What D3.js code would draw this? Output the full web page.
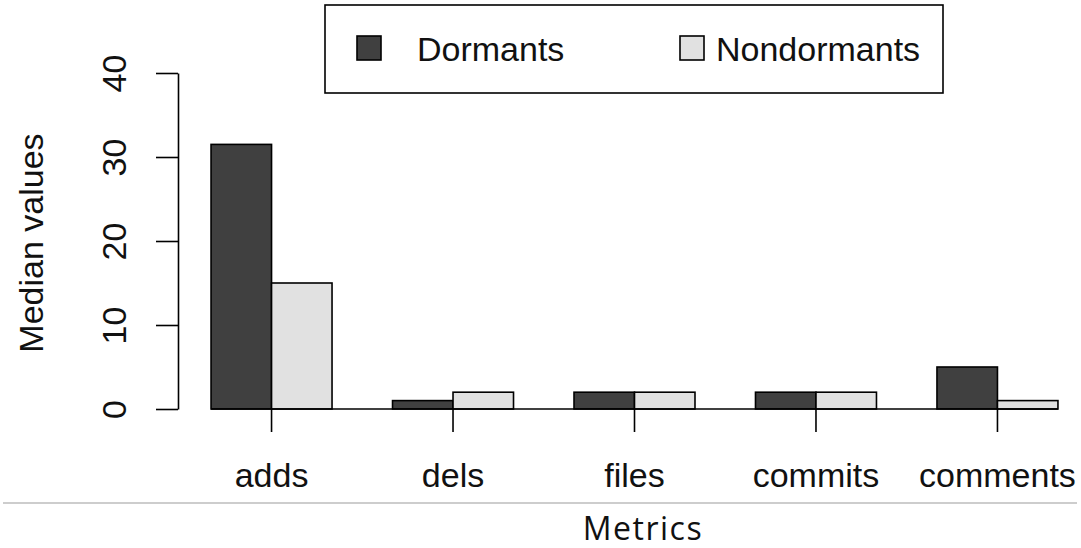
<!DOCTYPE html>
<html>
<head>
<meta charset="utf-8">
<script src="https://cdn.jsdelivr.net/npm/d3@7"></script>
<style>
  body { margin: 0; background: #fff; }
  text { font-family: "Liberation Sans", Arial, sans-serif; }
</style>
</head>
<body>
<script>
// chart data
let metrics = ["adds", "dels", "files", "commits", "comments"];
let groups = ["Dormants", "Nondormants"];
let dormants = [31.5, 1, 2, 2, 5];
let nondormants = [15, 2, 2, 2, 1];
let yTicks = [0, 10, 20, 30, 40];
let colors = ["#404040", "#e1e1e1"];

let svg = d3.select("body").append("svg")
  .attr("width", 1081)
  .attr("height", 548);

// scales
let y = d3.scaleLinear().domain([0, 40]).range([409, 73]);
// R barplot style: each group = 2 bars + 1 bar-wide gap
let x0 = d3.scaleBand().domain(metrics)
  .range([180.8, 1088.2])
  .paddingInner(1 / 3)
  .paddingOuter(1 / 6);
let x1 = d3.scaleBand().domain(groups).range([0, x0.bandwidth()]);

let rows = metrics.map((m, i) => ({ metric: m, values: [dormants[i], nondormants[i]] }));

// bars
let g = svg.append("g");
g.selectAll("g.grp")
  .data(rows)
  .join("g")
  .attr("class", "grp")
  .attr("transform", d => "translate(" + x0(d.metric) + ",0)")
  .selectAll("rect")
  .data(d => d.values.map((v, j) => ({ key: groups[j], v: v, c: colors[j] })))
  .join("rect")
  .attr("x", d => x1(d.key))
  .attr("y", d => y(d.v))
  .attr("width", x1.bandwidth())
  .attr("height", d => y(0) - y(d.v))
  .attr("fill", d => d.c)
  .attr("stroke", "#000")
  .attr("stroke-width", 1.6);

// baseline
svg.append("line")
  .attr("x1", x0(metrics[0])).attr("x2", x0(metrics[4]) + x0.bandwidth())
  .attr("y1", y(0)).attr("y2", y(0))
  .attr("stroke", "#000").attr("stroke-width", 1.6);

// y axis
let yAxis = svg.append("g")
  .attr("transform", "translate(178,0)")
  .call(d3.axisLeft(y).tickValues(yTicks).tickSize(22).tickSizeOuter(0).tickPadding(0));
yAxis.select(".domain").attr("stroke-width", 1.6);
yAxis.selectAll(".tick line").attr("stroke-width", 1.6);
yAxis.selectAll(".tick text")
  .attr("font-size", 34)
  .attr("font-family", "Liberation Sans")
  .attr("fill", "#111")
  .attr("transform", "translate(-64,0) rotate(-90)")
  .attr("x", 0).attr("dy", "0.35em")
  .attr("text-anchor", "middle");

// x axis ticks at group centres
let xAxis = svg.append("g")
  .attr("transform", "translate(0," + y(0) + ")");
xAxis.selectAll("line")
  .data(metrics)
  .join("line")
  .attr("x1", d => x0(d) + x0.bandwidth() / 2)
  .attr("x2", d => x0(d) + x0.bandwidth() / 2)
  .attr("y1", 0).attr("y2", 23)
  .attr("stroke", "#000").attr("stroke-width", 1.6);
xAxis.selectAll("text")
  .data(metrics)
  .join("text")
  .attr("x", d => x0(d) + x0.bandwidth() / 2)
  .attr("y", 78)
  .attr("text-anchor", "middle")
  .attr("font-size", 34)
  .attr("fill", "#111")
  .text(d => d);

// y title
svg.append("text")
  .attr("transform", "translate(43,243) rotate(-90)")
  .attr("text-anchor", "middle")
  .attr("font-size", 34)
  .attr("fill", "#111")
  .text("Median values");

// separator and x title
svg.append("line")
  .attr("x1", 3).attr("x2", 1077).attr("y1", 503).attr("y2", 503)
  .attr("stroke", "#bdbdbd").attr("stroke-width", 1.5);
svg.append("text")
  .attr("x", 643).attr("y", 540)
  .attr("text-anchor", "middle")
  .style("font-family", "'Open Sans', sans-serif")
  .attr("font-size", 32)
  .attr("letter-spacing", 1.5)
  .attr("fill", "#111")
  .text("Metrics");

// legend
let legend = svg.append("g");
legend.append("rect")
  .attr("x", 325).attr("y", 5).attr("width", 618).attr("height", 88)
  .attr("fill", "#fff").attr("stroke", "#000").attr("stroke-width", 1.6);
let legX = [357, 680];
legend.selectAll("rect.key")
  .data(groups)
  .join("rect")
  .attr("class", "key")
  .attr("x", (d, i) => legX[i]).attr("y", 36)
  .attr("width", 24).attr("height", 24)
  .attr("fill", (d, i) => colors[i])
  .attr("stroke", "#000").attr("stroke-width", 1.6);
legend.selectAll("text")
  .data(groups)
  .join("text")
  .attr("x", (d, i) => legX[i] + 60 - (i ? 24 : 0))
  .attr("y", 61)
  .attr("font-size", 34)
  .attr("fill", "#111")
  .text(d => d);
</script>
</body>
</html>
